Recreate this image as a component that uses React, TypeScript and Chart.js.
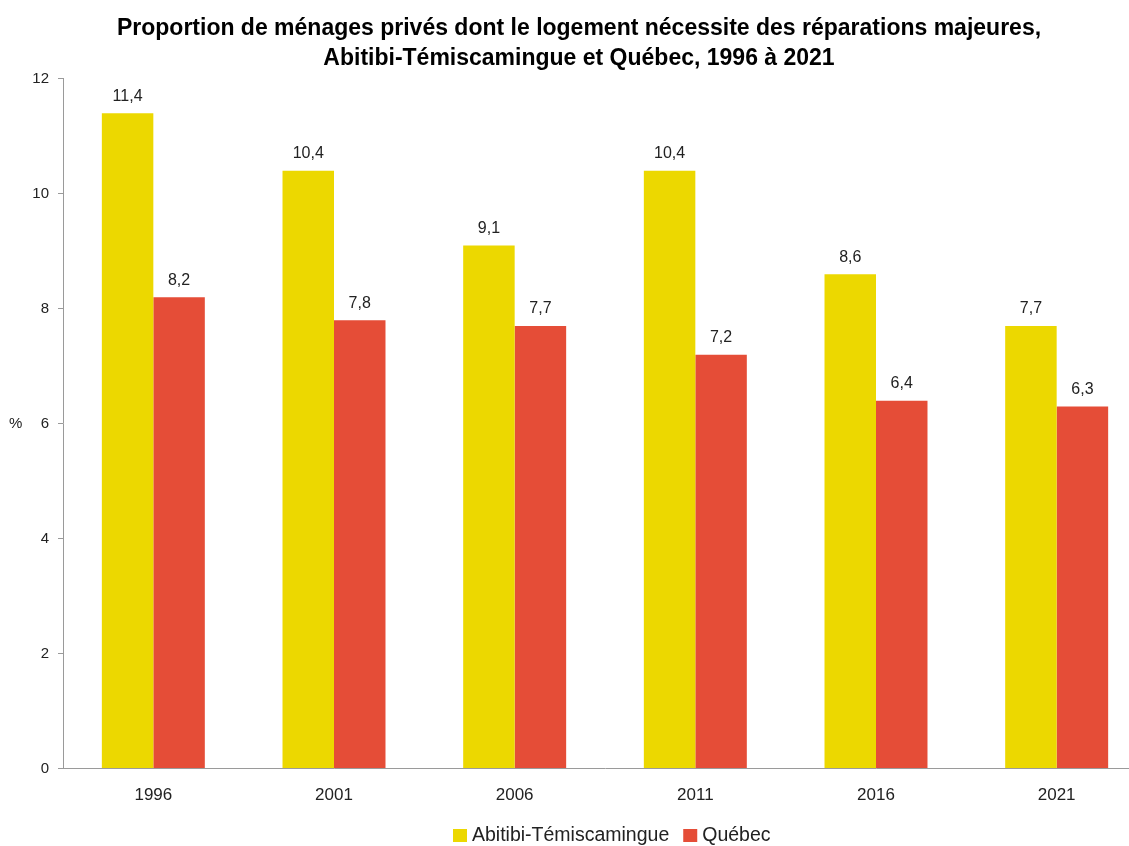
import React, { useEffect, useRef } from "react";
import { Chart, registerables } from "chart.js";

Chart.register(...registerables);

const categories = ["1996", "2001", "2006", "2011", "2016", "2021"];
const abitibiValues = [11.4, 10.4, 9.1, 10.4, 8.6, 7.7];
const quebecValues = [8.2, 7.8, 7.7, 7.2, 6.4, 6.3];
const seriesNames = ["Abitibi-Témiscamingue", "Québec"];
const titleLines = [
  "Proportion de ménages privés dont le logement nécessite des réparations majeures,",
  "Abitibi-Témiscamingue et Québec, 1996 à 2021",
];
const yAxisLabel = "%";

const YELLOW = "#ECD800";
const RED = "#E54D37";
const FONT = "'Liberation Sans', Arial, sans-serif";
const W = 1158;
const H = 846;

const fmt = (v: number) => v.toFixed(1).replace(".", ",");

const labelsPlugin = {
  id: "valueLabels",
  afterDatasetsDraw(chart: any) {
    const ctx = chart.ctx;
    ctx.save();
    ctx.font = `16px ${FONT}`;
    ctx.fillStyle = "#222";
    ctx.textAlign = "center";
    ctx.textBaseline = "bottom";
    chart.data.datasets.forEach((ds: any, i: number) => {
      const meta = chart.getDatasetMeta(i);
      meta.data.forEach((el: any, j: number) => {
        ctx.fillText(fmt(ds.data[j]), el.x, el.y - 9);
      });
    });
    ctx.restore();
  },
};

const extrasPlugin = {
  id: "extras",
  afterDraw(chart: any) {
    const ctx = chart.ctx;
    const area = chart.chartArea;
    ctx.save();
    ctx.font = `15px ${FONT}`;
    ctx.fillStyle = "#222";
    ctx.textAlign = "left";
    ctx.textBaseline = "middle";
    ctx.fillText(yAxisLabel, 9, (area.top + area.bottom) / 2);
    ctx.font = `19.5px ${FONT}`;
    ctx.textBaseline = "middle";
    const cy = 836;
    let x = 453;
    const colors = [YELLOW, RED];
    seriesNames.forEach((name, i) => {
      ctx.fillStyle = colors[i];
      ctx.fillRect(x, cy - 7, 14, 13);
      x += 19;
      ctx.fillStyle = "#222";
      ctx.fillText(name, x, cy);
      x += ctx.measureText(name).width + 14;
    });
    ctx.restore();
  },
};

export default function App() {
  const ref = useRef<HTMLCanvasElement | null>(null);
  useEffect(() => {
    document.body.style.overflow = "hidden";
    const canvas = ref.current!;
    const chart = new Chart(canvas, {
      type: "bar",
      data: {
        labels: categories,
        datasets: [
          {
            label: seriesNames[0],
            data: abitibiValues,
            backgroundColor: YELLOW,
            categoryPercentage: 0.57,
            barPercentage: 1,
          },
          {
            label: seriesNames[1],
            data: quebecValues,
            backgroundColor: RED,
            categoryPercentage: 0.57,
            barPercentage: 1,
          },
        ],
      },
      options: {
        responsive: false,
        animation: false,
        layout: { padding: { left: 11, right: 11, bottom: 31, top: 0 } },
        plugins: {
          legend: { display: false },
          tooltip: { enabled: false },
          title: {
            display: true,
            text: titleLines,
            color: "#000",
            font: { family: FONT, size: 23, weight: "bold", lineHeight: 1.3 },
            padding: { top: 14, bottom: 5 },
          },
        },
        scales: {
          x: {
            grid: { display: false },
            border: { display: true, color: "#9a9a9a", width: 1 },
            ticks: { color: "#222", font: { family: FONT, size: 17 }, padding: 9 },
          },
          y: {
            min: 0,
            max: 12,
            afterFit: (scale: any) => {
              scale.width = 52;
            },
            ticks: { stepSize: 2, color: "#222", font: { family: FONT, size: 15 }, padding: 9 },
            grid: { drawOnChartArea: false, tickLength: 5, color: "#9a9a9a" },
            border: { display: true, color: "#9a9a9a", width: 1 },
          },
        },
      },
      plugins: [labelsPlugin, extrasPlugin],
    });
    return () => chart.destroy();
  }, []);
  return (
    <div style={{ position: "fixed", left: 0, top: 0, width: W, height: H, background: "#fff" }}>
      <canvas ref={ref} width={W} height={H} style={{ width: W, height: H, display: "block" }} />
    </div>
  );
}
